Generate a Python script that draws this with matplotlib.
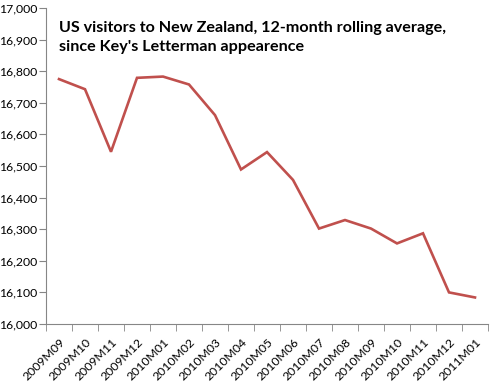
import matplotlib.pyplot as plt
from matplotlib.ticker import FuncFormatter

months = ['2009M09', '2009M10', '2009M11', '2009M12', '2010M01', '2010M02',
          '2010M03', '2010M04', '2010M05', '2010M06', '2010M07', '2010M08',
          '2010M09', '2010M10', '2010M11', '2010M12', '2011M01']
visitors = [16775, 16743, 16545, 16779, 16783, 16758, 16661, 16489, 16544,
            16456, 16302, 16329, 16302, 16255, 16287, 16100, 16084]

plt.rcParams['font.family'] = ['Lato', 'DejaVu Sans']

fig = plt.figure(figsize=(4.93, 3.82), dpi=100)
ax = fig.add_axes([46 / 493, 58 / 382, 442 / 493, 316 / 382])

x = list(range(len(months)))
ax.plot(x, visitors, color='#C0504D', linewidth=1.9, solid_joinstyle='miter')

ax.set_xlim(-0.5, len(months) - 0.5)
ax.set_ylim(16000, 17000)
ax.set_yticks(range(16000, 17001, 100))
ax.yaxis.set_major_formatter(FuncFormatter(lambda v, p: f'{int(v):,}'))

ax.set_xticks(x)
ax.set_xticklabels(months, rotation=45, ha='right', rotation_mode='anchor')
ax.set_xticks([i - 0.5 for i in range(len(months) + 1)], minor=True)
ax.tick_params(axis='x', which='major', length=0, pad=9, labelsize=8.8)
ax.tick_params(axis='x', which='minor', length=5, color='#868686', direction='out')
ax.tick_params(axis='y', length=5, color='#868686', direction='out', labelsize=8.8, pad=1.5)

for s in ['top', 'right']:
    ax.spines[s].set_visible(False)
for s in ['left', 'bottom']:
    ax.spines[s].set_color('#868686')

ax.text(0.03, 0.96, "US visitors to New Zealand, 12-month rolling average,\nsince Key's Letterman appearence",
        transform=ax.transAxes, ha='left', va='top', fontsize=11.6, fontweight='bold',
        linespacing=1.5)

plt.savefig('out.png', dpi=100)
plt.close()
